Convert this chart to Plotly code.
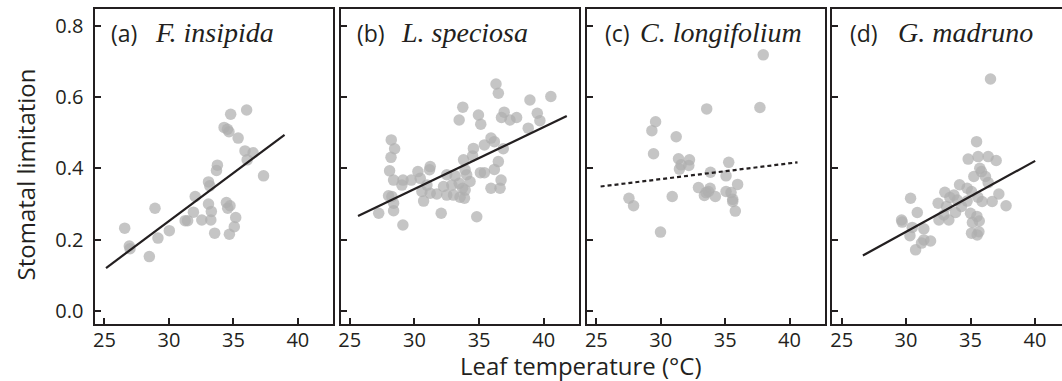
import plotly.graph_objects as go

# ---------------- data ----------------
panel_labels = ["(a)", "(b)", "(c)", "(d)"]
species = ["F. insipida", "L. speciosa", "C. longifolium", "G. madruno"]

a_temp = [36.03, 34.79, 34.28, 34.54, 34.66, 35.37, 35.90, 36.53, 36.07, 37.34, 33.76, 33.69,
          33.07, 33.17, 32.04, 33.07, 34.46, 34.74, 34.56, 33.29, 31.90, 28.92, 35.18, 31.26,
          31.45, 32.55, 33.25, 35.07, 33.55, 34.69, 30.03, 29.15, 26.57, 26.93, 26.98, 28.48]
a_sl = [0.564, 0.552, 0.515, 0.510, 0.503, 0.485, 0.449, 0.444, 0.424, 0.379, 0.409, 0.394,
        0.362, 0.351, 0.321, 0.300, 0.304, 0.295, 0.288, 0.279, 0.277, 0.288, 0.262, 0.253,
        0.253, 0.255, 0.255, 0.236, 0.218, 0.215, 0.225, 0.204, 0.232, 0.182, 0.174, 0.152]

b_temp = [36.31, 36.49, 40.55, 38.93, 33.74, 34.95, 33.46, 35.13, 36.94, 36.73, 37.39, 37.90,
          39.50, 39.70, 38.80, 28.21, 28.47, 28.19, 28.08, 28.39, 29.12, 29.03, 29.75, 30.27,
          31.22, 31.17, 30.45, 30.97, 30.58, 31.22, 31.73, 30.71, 28.00, 28.26, 28.39, 28.39,
          27.24, 29.11, 32.07, 34.82, 34.56, 35.41, 35.92, 36.18, 36.87, 33.80, 34.50, 36.49,
          36.18, 35.41, 33.92, 32.50, 33.15, 34.04, 34.30, 33.46, 32.89, 32.25, 33.72, 33.92,
          33.02, 33.53, 33.87, 32.50, 35.92, 36.62, 36.70, 35.10]
b_sl = [0.637, 0.611, 0.602, 0.592, 0.572, 0.550, 0.536, 0.524, 0.558, 0.543, 0.536, 0.543,
        0.555, 0.534, 0.513, 0.480, 0.455, 0.431, 0.393, 0.367, 0.367, 0.353, 0.367, 0.391,
        0.405, 0.396, 0.372, 0.353, 0.335, 0.330, 0.328, 0.308, 0.323, 0.321, 0.302, 0.281,
        0.274, 0.241, 0.274, 0.264, 0.456, 0.466, 0.485, 0.475, 0.455, 0.424, 0.435, 0.419,
        0.397, 0.388, 0.396, 0.382, 0.379, 0.382, 0.363, 0.358, 0.353, 0.349, 0.344, 0.339,
        0.325, 0.319, 0.316, 0.325, 0.344, 0.344, 0.367, 0.388]

c_temp = [37.96, 37.70, 33.57, 29.60, 29.31, 31.20, 29.44, 31.38, 32.23, 31.58, 32.18, 31.45,
          35.28, 33.86, 35.07, 35.97, 32.93, 33.83, 33.52, 33.39, 34.24, 35.07, 35.46, 35.59,
          35.59, 35.79, 27.53, 27.89, 30.89, 29.98, 33.70]
c_sl = [0.719, 0.571, 0.567, 0.531, 0.506, 0.489, 0.441, 0.427, 0.424, 0.410, 0.408, 0.398,
        0.417, 0.389, 0.379, 0.355, 0.346, 0.344, 0.332, 0.324, 0.321, 0.335, 0.332, 0.313,
        0.307, 0.280, 0.316, 0.295, 0.321, 0.221, 0.335]

d_temp = [36.55, 35.47, 34.82, 35.59, 36.37, 36.99, 35.72, 35.85, 35.26, 36.16, 36.37, 34.15,
          34.74, 35.08, 33.01, 33.71, 33.40, 33.97, 37.20, 37.76, 36.68, 35.90, 35.57, 30.35,
          32.49, 33.14, 33.84, 32.93, 32.55, 33.32, 35.00, 35.50, 35.15, 35.68, 30.87, 29.65,
          29.70, 30.48, 31.38, 30.30, 31.38, 31.90, 31.20, 30.74, 35.08, 35.52, 35.65, 34.74,
          34.30]
d_sl = [0.651, 0.475, 0.426, 0.433, 0.433, 0.422, 0.400, 0.391, 0.377, 0.377, 0.360, 0.354,
        0.344, 0.335, 0.333, 0.325, 0.318, 0.311, 0.328, 0.295, 0.307, 0.307, 0.319, 0.316,
        0.302, 0.293, 0.276, 0.269, 0.255, 0.255, 0.274, 0.265, 0.248, 0.252, 0.276, 0.255,
        0.249, 0.234, 0.230, 0.211, 0.199, 0.196, 0.190, 0.171, 0.218, 0.213, 0.222, 0.308,
        0.293]

# regression lines: endpoints (temperature, fitted limitation)
a_fit_temp = [25.12, 38.97]
a_fit_sl = [0.120, 0.494]
b_fit_temp = [25.64, 41.78]
b_fit_sl = [0.266, 0.547]
c_fit_temp = [25.33, 40.62]
c_fit_sl = [0.349, 0.417]
d_fit_temp = [26.65, 40.02]
d_fit_sl = [0.155, 0.421]

x_ticks = [25, 30, 35, 40]
y_ticks = [0.0, 0.2, 0.4, 0.6, 0.8]

# ---------------- figure ----------------
W, H = 1062, 381
temps = [a_temp, b_temp, c_temp, d_temp]
sls = [a_sl, b_sl, c_sl, d_sl]
fit_t = [a_fit_temp, b_fit_temp, c_fit_temp, d_fit_temp]
fit_s = [a_fit_sl, b_fit_sl, c_fit_sl, d_fit_sl]
dashes = ["solid", "solid", "4px,3px", "solid"]

# panel pixel extents (left, right)
px_left = [92.7, 339.3, 586.0, 831.7]
px_right = [330.7, 577.3, 824.0, 1062.0]
x_ranges = [[24.30, 42.71], [24.35, 42.70], [24.30, 42.73], [24.28, 42.10]]
y_dom = [(H - 323.7) / H, (H - 9.3) / H]
y_range = [-0.0365, 0.847]

INK = "#231f20"
fig = go.Figure()

for i in range(4):
    sfx = "" if i == 0 else str(i + 1)
    fig.add_trace(go.Scatter(
        x=temps[i], y=sls[i], mode="markers",
        marker=dict(size=11.5, color="rgb(175,175,175)", opacity=0.72, line=dict(width=0)),
        xaxis="x" + sfx, yaxis="y" + sfx, showlegend=False, hoverinfo="skip"))
    fig.add_trace(go.Scatter(
        x=fit_t[i], y=fit_s[i], mode="lines",
        line=dict(color=INK, width=2.2, dash=dashes[i]),
        xaxis="x" + sfx, yaxis="y" + sfx, showlegend=False, hoverinfo="skip"))

    xa = dict(domain=[px_left[i] / W, px_right[i] / W], range=x_ranges[i],
              tickvals=x_ticks, ticks="inside", ticklen=6, tickwidth=1.5, tickcolor=INK,
              showline=True, linewidth=2, linecolor=INK, mirror=True,
              showgrid=False, zeroline=False, anchor="y" + sfx,
              tickfont=dict(family="Open Sans", size=20, color=INK),
              ticklabelstandoff=-3)
    ya = dict(domain=y_dom, range=y_range, tickvals=y_ticks, tickformat=".1f",
              ticks="inside", ticklen=6, tickwidth=1.5, tickcolor=INK,
              showline=True, linewidth=2, linecolor=INK, mirror=(i < 3),
              showgrid=False, zeroline=False, anchor="x" + sfx,
              showticklabels=(i == 0),
              tickfont=dict(family="Open Sans", size=20, color=INK),
              ticklabelstandoff=6)
    fig.layout["xaxis" + sfx] = xa
    fig.layout["yaxis" + sfx] = ya

# panel titles
label_px = [106, 353, 601.7, 847]
species_px = [150, 397, 637, 896]
title_y = (H - 33) / H
for i in range(4):
    fig.add_annotation(x=label_px[i] / W, y=title_y, xref="paper", yref="paper",
                       text=panel_labels[i], showarrow=False, xanchor="left", yanchor="middle",
                       font=dict(family="Open Sans", size=23, color=INK))
    fig.add_annotation(x=species_px[i] / W, y=title_y, xref="paper", yref="paper",
                       text="<i>" + species[i] + "</i>", showarrow=False,
                       xanchor="left", yanchor="middle",
                       font=dict(family="Liberation Serif", size=28, color=INK))

# axis titles
fig.add_annotation(x=580 / W, y=(H - 365) / H, xref="paper", yref="paper",
                   text="Leaf temperature (°C)", showarrow=False,
                   xanchor="center", yanchor="middle",
                   font=dict(family="Open Sans", size=24, color=INK))
fig.add_annotation(x=22.5 / W, y=(H - 174) / H, xref="paper", yref="paper",
                   text="Stomatal limitation", showarrow=False, textangle=-90,
                   xanchor="center", yanchor="middle",
                   font=dict(family="Open Sans", size=24, color=INK))

fig.update_layout(width=W, height=H, margin=dict(l=0, r=0, t=0, b=0),
                  paper_bgcolor="white", plot_bgcolor="white")

fig.write_html("out.html", config={"displayModeBar": False},
               post_script="document.body.style.margin='0';document.body.style.overflow='hidden';")
